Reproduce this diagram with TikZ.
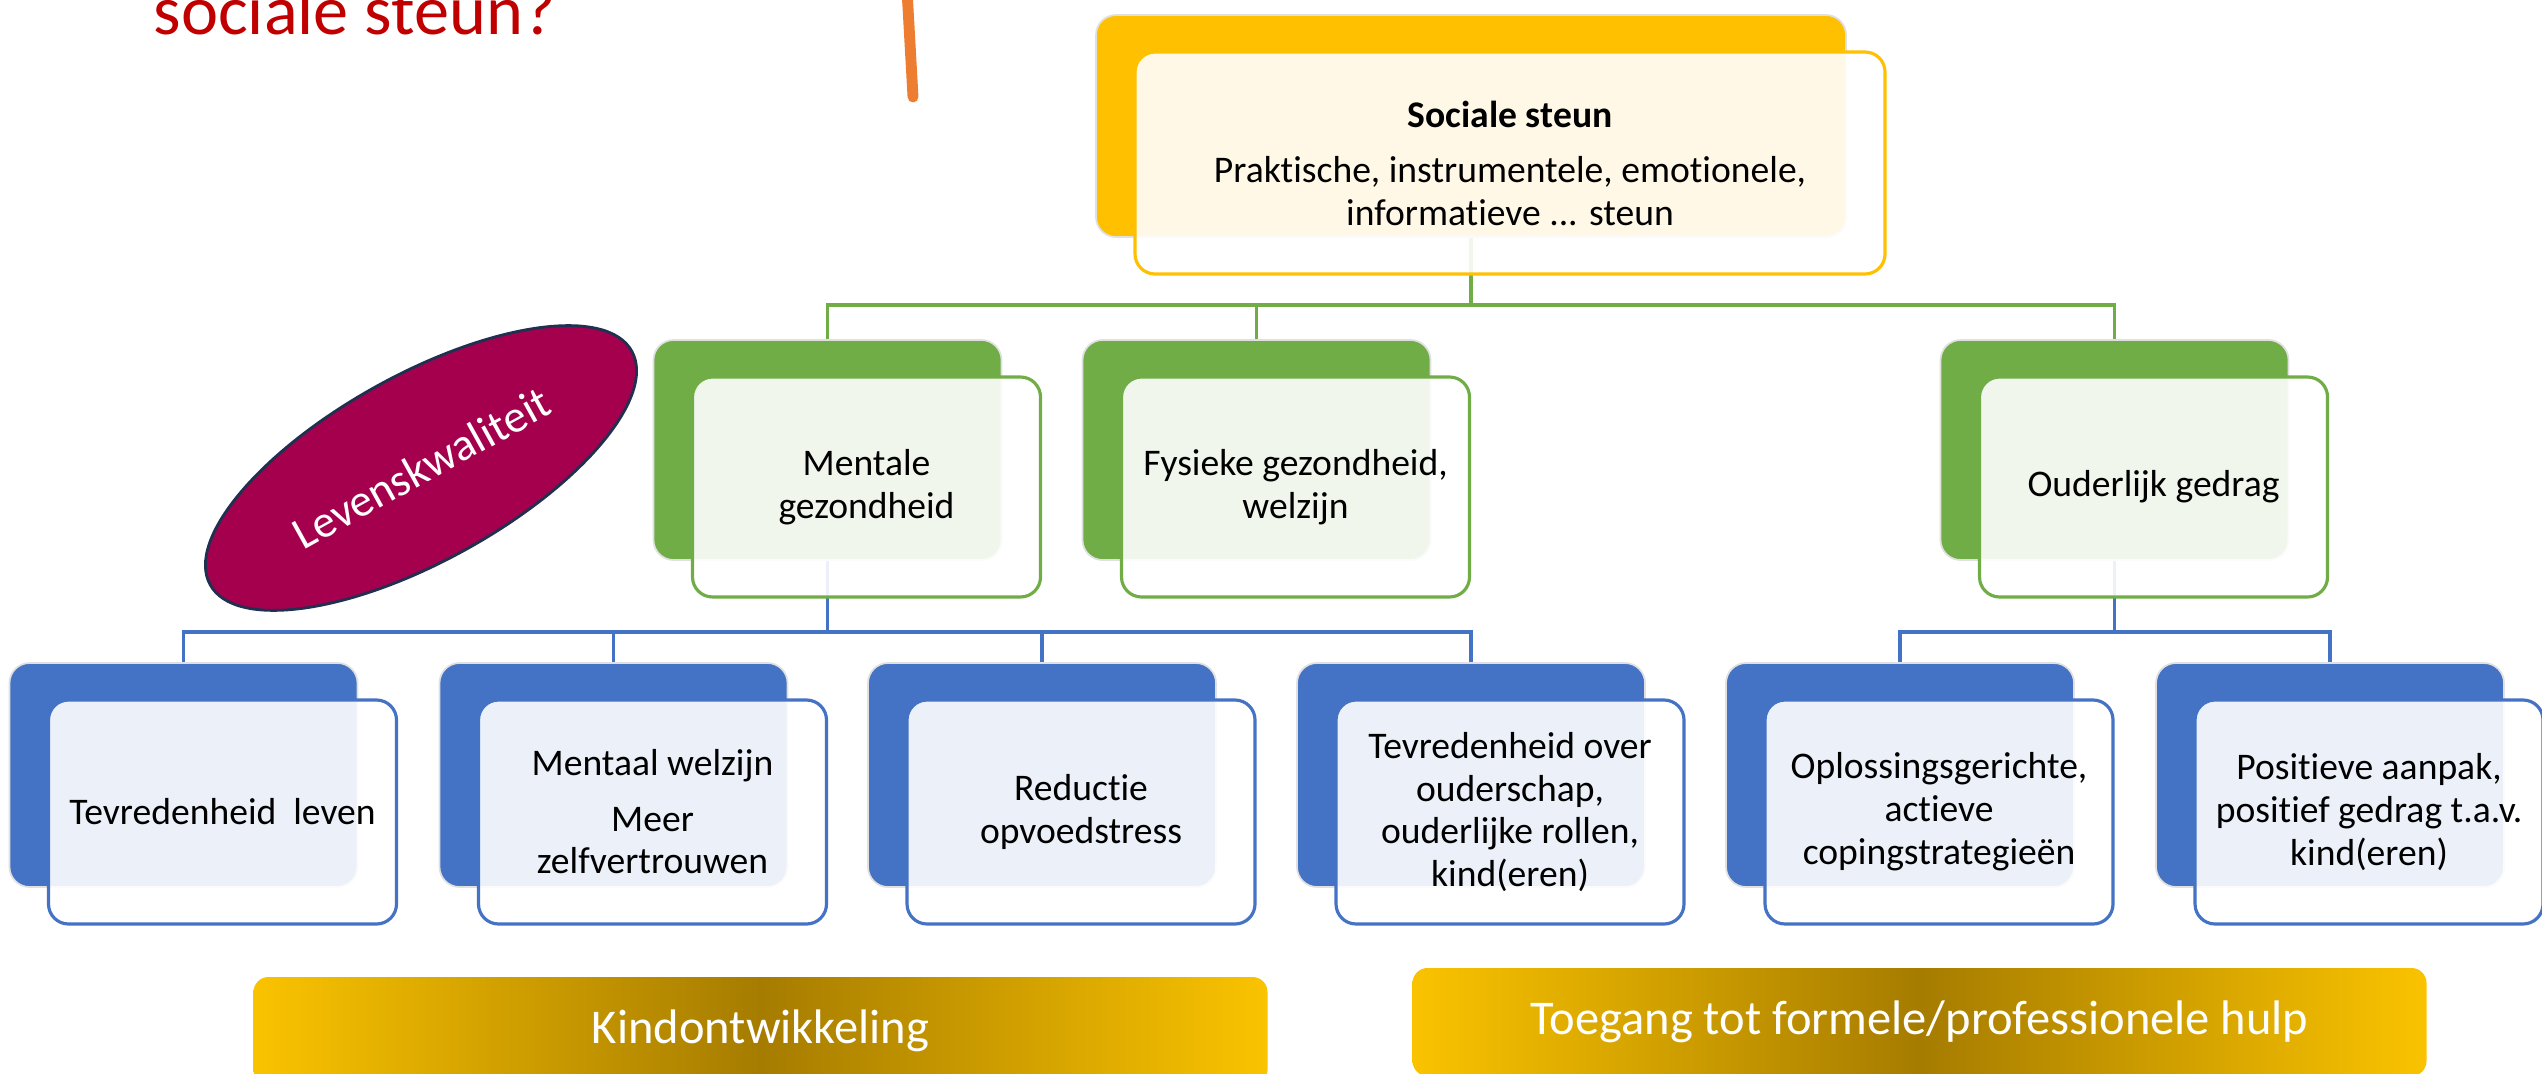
\documentclass[tikz,border=0pt]{standalone}
\usepackage{fontspec}
\setmainfont{Carlito}[Ligatures=NoCommon]
\usetikzlibrary{shapes.geometric}
\definecolor{gold}{HTML}{FFC000}
\definecolor{leafgreen}{HTML}{70AD47}
\definecolor{steelblue}{HTML}{4472C4}
\definecolor{wine}{HTML}{A5004D}
\definecolor{navy}{HTML}{1F3050}
\definecolor{titlered}{HTML}{C00000}
\definecolor{pumpkin}{HTML}{ED7D31}
\definecolor{darkgold}{HTML}{A67C00}
\definecolor{barfill}{HTML}{FAC300}
\begin{document}
\begin{tikzpicture}[x=0.1mm,y=-0.1mm]
\tikzstyle{every node}+=[inner sep=0pt, font=\fontsize{10.7}{12.2}\selectfont]
\tikzstyle{back}=[rectangle, rounded corners=2mm, draw=black!12, line width=0.5pt, minimum width=34.8mm, minimum height=22.2mm]
\tikzstyle{front}=[rectangle, rounded corners=2mm, line width=0.9pt, fill=white, fill opacity=0.9, text opacity=1, minimum width=34.8mm, minimum height=22.2mm, align=center]
\tikzstyle{gline}=[leafgreen, line width=1.1pt]
\tikzstyle{bline}=[steelblue, line width=1.1pt]
\tikzstyle{bar}=[rectangle, rounded corners=1.5mm, minimum width=101.4mm, minimum height=10.8mm, left color=barfill, right color=barfill, middle color=darkgold, text=white, font=\fontsize{13.8}{16}\selectfont]
\useasboundingbox (0,0) rectangle (2542,1073);
\node[anchor=base west, text=titlered, font=\fontsize{20}{24}\selectfont] (title) at (153,35) {sociale steun?};
\draw [pumpkin, line width=3.1pt, line cap=round] (907,-10) -- (913,97);
\node[back, fill=gold, minimum width=75mm] (ssb) at (1471,126) {};
\node[back, fill=leafgreen, minimum height=22mm] (mgb) at (827.5,450) {};
\node[back, fill=leafgreen, minimum height=22mm] (fgb) at (1256.5,450) {};
\node[back, fill=leafgreen, minimum height=22mm] (ogb) at (2114.5,450) {};
\node[back, fill=steelblue, minimum height=22.4mm] (tlb) at (183.5,775) {};
\node[back, fill=steelblue, minimum height=22.4mm] (mwb) at (613.5,775) {};
\node[back, fill=steelblue, minimum height=22.4mm] (rob) at (1042,775) {};
\node[back, fill=steelblue, minimum height=22.4mm] (tob) at (1471,775) {};
\node[back, fill=steelblue, minimum height=22.4mm] (acb) at (1900,775) {};
\node[back, fill=steelblue, minimum height=22.4mm] (pab) at (2330,775) {};
\coordinate (gbus) at (1471,305);
\coordinate (bbus) at (827.5,632);
\coordinate (obus) at (2114.5,632);
\draw [gline] (ssb.south) -- (gbus);
\draw [gline] (gbus) -| (mgb.north);
\draw [gline] (gbus) -| (fgb.north);
\draw [gline] (gbus) -| (ogb.north);
\draw [bline] (mgb.south) -- (bbus);
\draw [bline] (bbus) -| (tlb.north);
\draw [bline] (bbus) -| (mwb.north);
\draw [bline] (bbus) -| (rob.north);
\draw [bline] (bbus) -| (tob.north);
\draw [bline] (ogb.south) -- (obus);
\draw [bline] (obus) -| (acb.north);
\draw [bline] (obus) -| (pab.north);
\node[front, draw=gold, minimum width=75mm] (ss) at (1510,163) {\textbf{Sociale steun}\\[3.5pt]Praktische, instrumentele, emotionele,\\informatieve ... steun};
\node[front, draw=leafgreen, minimum height=22mm] (mg) at (866.5,487) {Mentale\\gezondheid};
\node[front, draw=leafgreen, minimum height=22mm] (fg) at (1295.5,487) {Fysieke gezondheid,\\welzijn};
\node[front, draw=leafgreen, minimum height=22mm] (og) at (2153.5,487) {Ouderlijk gedrag};
\node[front, draw=steelblue, minimum height=22.4mm] (tl) at (222.5,812) {Tevredenheid\ \ leven};
\node[front, draw=steelblue, minimum height=22.4mm] (mw) at (652.5,812) {Mentaal welzijn\\[3.5pt]Meer\\zelfvertrouwen};
\node[front, draw=steelblue, minimum height=22.4mm] (ro) at (1081,812) {Reductie\\opvoedstress};
\node[front, draw=steelblue, minimum height=22.4mm] (to) at (1510,812) {Tevredenheid over\\ouderschap,\\ouderlijke rollen,\\kind(eren)};
\node[front, draw=steelblue, minimum height=22.4mm] (ac) at (1939,812) {Oplossingsgerichte,\\actieve\\copingstrategieën};
\node[front, draw=steelblue, minimum height=22.4mm] (pa) at (2369,812) {Positieve aanpak,\\positief gedrag t.a.v.\\kind(eren)};
\node[ellipse, draw=navy, fill=wine, line width=0.8pt, minimum width=48.2mm, minimum height=18.6mm, rotate=29, text=white, font=\fontsize{13}{15}\selectfont] (lk) at (421,468) {Levenskwaliteit};
\node[bar] (kind) at (760.5,1031) {Kindontwikkeling};
\node[bar] (hulp) at (1919.5,1022) {Toegang tot formele/professionele hulp};
\end{tikzpicture}
\end{document}
